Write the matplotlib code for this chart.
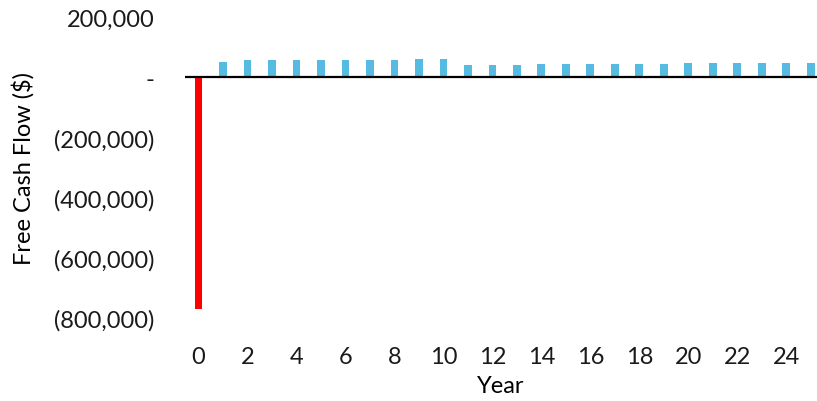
import matplotlib
matplotlib.use('Agg')
import matplotlib.pyplot as plt
from matplotlib.ticker import FuncFormatter

years = list(range(0, 26))
cash_flow = [-770000,
             52000, 55500, 55500, 55500, 55500, 55500, 55500, 55500, 59000, 59000,
             40000, 40000, 40000, 43300, 43300, 43300, 43300, 43300, 43300,
             46700, 46700, 46700, 46700, 46700, 46700]
y_ticks = [-800000, -600000, -400000, -200000, 0, 200000]
x_ticks = list(range(0, 26, 2))

plt.rcParams['font.family'] = ['Lato', 'DejaVu Sans']


def money(v, pos):
    if v == 0:
        return '-'
    if v < 0:
        return '({:,.0f})'.format(-v)
    return '{:,.0f}'.format(v)


fig = plt.figure(figsize=(8.17, 4.02), dpi=100)
ax = fig.add_axes([185 / 817, 1 - 319 / 402, (817 - 185) / 817, (319 - 18) / 402])

colors = ['#FF0000' if v < 0 else '#56BBE0' for v in cash_flow]
ax.bar(years, cash_flow, width=0.32, color=colors, zorder=2)
ax.axhline(0, color='black', lw=1.6, zorder=3)

ax.set_xlim(-0.55, 25.25)
ax.set_ylim(-800000, 200000)
ax.set_yticks(y_ticks)
ax.set_xticks(x_ticks)
ax.yaxis.set_major_formatter(FuncFormatter(money))
for s in ax.spines.values():
    s.set_visible(False)
ax.tick_params(axis='both', length=0, labelsize=17, colors='#1a1a1a')
ax.tick_params(axis='y', pad=22)
ax.tick_params(axis='x', pad=20)

ax.set_xlabel('Year', fontsize=17, labelpad=6)
ax.set_ylabel('Free Cash Flow ($)', fontsize=17, labelpad=14)

fig.savefig('out.png', dpi=100)
